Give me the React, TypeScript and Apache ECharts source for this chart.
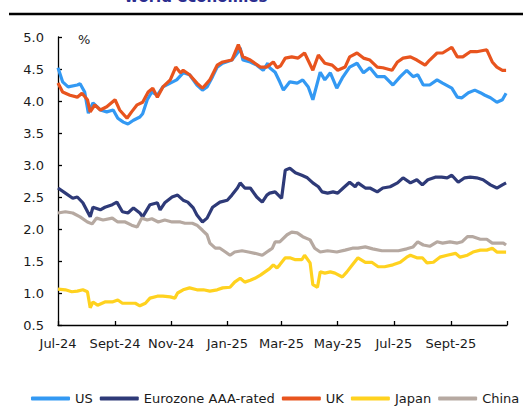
import React, { useEffect, useRef } from "react";
import * as echarts from "echarts";

// x values are days since 1 July 2024
const tickDays = [0, 62, 123, 184, 243, 304, 365, 427, 488];
const tickLabels = ["Jul-24", "Sept-24", "Nov-24", "Jan-25", "Mar-25", "May-25", "Jul-25", "Sept-25"];
const seriesNames = ["US", "Eurozone AAA-rated", "UK", "Japan", "China"];
const seriesColors = ["#3399f3", "#2e3a78", "#e8541e", "#ffd21f", "#b6a9a1"];

const US: [number, number][] = [[0,4.52],[5,4.30],[11,4.22],[21,4.25],[24,4.27],[29,4.14],[33,3.81],[38,3.97],[46,3.86],[53,3.83],[60,3.86],[65,3.73],[71,3.67],[76,3.64],[82,3.70],[89,3.75],[92,3.80],[97,4.02],[102,4.14],[108,4.09],[114,4.22],[122,4.28],[129,4.33],[136,4.44],[143,4.41],[151,4.25],[157,4.17],[162,4.22],[168,4.38],[173,4.53],[179,4.59],[189,4.64],[195,4.75],[198,4.83],[201,4.64],[209,4.61],[216,4.56],[223,4.48],[228,4.59],[230,4.52],[236,4.45],[241,4.30],[245,4.17],[252,4.30],[260,4.28],[266,4.33],[272,4.22],[277,4.02],[285,4.45],[290,4.33],[296,4.44],[303,4.20],[309,4.36],[317,4.53],[325,4.59],[332,4.44],[339,4.52],[347,4.38],[355,4.38],[364,4.25],[372,4.38],[379,4.48],[386,4.38],[391,4.41],[397,4.25],[404,4.25],[412,4.33],[418,4.28],[428,4.20],[434,4.06],[439,4.05],[446,4.13],[453,4.17],[459,4.13],[464,4.09],[470,4.05],[477,3.98],[483,4.02],[487,4.12]];

const EUROZONE: [number, number][] = [[0,2.64],[8,2.56],[16,2.48],[21,2.50],[27,2.41],[35,2.19],[38,2.34],[46,2.30],[51,2.34],[59,2.38],[64,2.42],[70,2.27],[76,2.25],[82,2.33],[89,2.25],[92,2.19],[100,2.38],[108,2.41],[111,2.30],[116,2.41],[124,2.50],[130,2.53],[136,2.45],[141,2.42],[147,2.33],[151,2.22],[157,2.11],[162,2.17],[168,2.34],[176,2.42],[184,2.45],[189,2.53],[195,2.64],[198,2.72],[203,2.64],[209,2.64],[216,2.50],[222,2.42],[227,2.53],[230,2.56],[236,2.58],[243,2.48],[247,2.92],[252,2.95],[258,2.88],[265,2.84],[271,2.80],[277,2.72],[283,2.66],[287,2.58],[293,2.56],[299,2.58],[304,2.56],[310,2.64],[317,2.73],[323,2.66],[326,2.72],[334,2.64],[339,2.64],[347,2.58],[353,2.64],[361,2.66],[369,2.72],[375,2.80],[383,2.72],[390,2.77],[396,2.69],[402,2.77],[410,2.81],[417,2.81],[423,2.80],[428,2.84],[435,2.73],[442,2.80],[448,2.81],[455,2.80],[462,2.77],[470,2.69],[477,2.64],[483,2.69],[487,2.72]];

const UK: [number, number][] = [[0,4.28],[5,4.14],[13,4.09],[21,4.06],[26,4.12],[32,4.02],[35,3.83],[40,3.94],[46,3.86],[53,3.91],[62,4.02],[67,3.86],[75,3.73],[80,3.83],[86,3.94],[92,3.98],[98,4.14],[103,4.20],[108,4.06],[114,4.22],[122,4.33],[128,4.53],[133,4.44],[136,4.48],[143,4.41],[151,4.28],[157,4.20],[165,4.33],[173,4.56],[179,4.61],[189,4.64],[196,4.88],[201,4.69],[209,4.64],[220,4.53],[227,4.53],[234,4.61],[238,4.52],[242,4.55],[247,4.67],[254,4.69],[261,4.67],[268,4.75],[277,4.48],[283,4.72],[290,4.59],[298,4.56],[304,4.48],[312,4.53],[317,4.69],[325,4.75],[332,4.67],[339,4.64],[347,4.53],[353,4.52],[363,4.48],[369,4.61],[375,4.67],[383,4.69],[390,4.64],[399,4.56],[404,4.64],[412,4.75],[418,4.75],[428,4.84],[434,4.69],[440,4.69],[448,4.77],[455,4.77],[466,4.80],[472,4.61],[477,4.53],[483,4.48],[487,4.48]];

const JAPAN: [number, number][] = [[0,1.06],[8,1.05],[15,1.02],[21,1.03],[27,1.05],[32,1.02],[35,0.77],[38,0.86],[43,0.81],[51,0.86],[59,0.86],[65,0.89],[70,0.84],[76,0.84],[84,0.84],[89,0.80],[95,0.84],[100,0.92],[108,0.95],[114,0.95],[122,0.94],[127,0.92],[130,1.00],[136,1.05],[143,1.08],[151,1.05],[158,1.05],[165,1.03],[173,1.05],[179,1.08],[187,1.09],[192,1.17],[198,1.23],[203,1.17],[209,1.20],[214,1.23],[220,1.28],[225,1.33],[230,1.38],[234,1.44],[238,1.39],[241,1.44],[247,1.55],[252,1.55],[258,1.52],[265,1.52],[268,1.59],[274,1.47],[277,1.13],[282,1.09],[285,1.33],[290,1.31],[296,1.33],[301,1.31],[309,1.25],[314,1.33],[320,1.44],[326,1.55],[334,1.48],[341,1.48],[348,1.41],[355,1.41],[364,1.44],[372,1.48],[379,1.56],[383,1.59],[390,1.55],[396,1.55],[401,1.47],[408,1.48],[415,1.56],[423,1.59],[432,1.62],[437,1.56],[445,1.59],[451,1.64],[459,1.67],[466,1.67],[472,1.70],[477,1.64],[484,1.64],[487,1.64]];

const CHINA: [number, number][] = [[0,2.25],[8,2.27],[16,2.25],[24,2.19],[32,2.11],[37,2.08],[42,2.17],[49,2.14],[59,2.17],[65,2.11],[73,2.11],[80,2.06],[86,2.03],[91,2.17],[97,2.14],[102,2.16],[109,2.11],[116,2.14],[124,2.11],[133,2.11],[138,2.09],[146,2.09],[151,2.06],[157,1.98],[162,1.91],[165,1.78],[171,1.70],[176,1.70],[182,1.64],[187,1.59],[192,1.64],[200,1.66],[207,1.64],[214,1.62],[222,1.59],[227,1.64],[230,1.67],[233,1.70],[236,1.80],[241,1.80],[249,1.91],[254,1.95],[260,1.94],[266,1.88],[274,1.83],[279,1.70],[285,1.64],[293,1.66],[303,1.64],[312,1.67],[320,1.70],[326,1.70],[334,1.72],[342,1.69],[352,1.66],[361,1.66],[370,1.66],[379,1.69],[386,1.72],[391,1.80],[397,1.75],[404,1.73],[412,1.80],[418,1.78],[426,1.80],[434,1.78],[439,1.80],[445,1.88],[451,1.88],[459,1.84],[466,1.84],[472,1.78],[478,1.78],[484,1.78],[487,1.75]];

const seriesData = [US, EUROZONE, UK, JAPAN, CHINA];

const FONT = "DejaVu Sans";
const TEXT = "#1a1a1a";

export default function App() {
  const ref = useRef<HTMLDivElement>(null);
  useEffect(() => {
    if (!ref.current) return;
    const chart = echarts.init(ref.current, null, { renderer: "svg" });
    chart.setOption({
      animation: false,
      textStyle: { fontFamily: FONT },
      grid: { left: 58, right: 16, top: 37, bottom: 83 },
      legend: {
        data: seriesNames,
        left: 31,
        top: 392,
        width: 492,
        padding: 0,
        icon: "roundRect",
        itemWidth: 39,
        itemHeight: 4,
        itemGap: 7,
        textStyle: { fontFamily: FONT, fontSize: 13, color: TEXT },
      },
      graphic: [
        {
          type: "text",
          x: 196,
          y: 4,
          style: {
            text: "world economies",
            fill: "#2b2d8f",
            font: `bold 15px ${FONT}`,
            align: "center",
            verticalAlign: "bottom",
          },
        },
        {
          type: "line",
          shape: { x1: 9, y1: 14, x2: 523, y2: 14 },
          style: { stroke: "#000", lineWidth: 2.5 },
        },
        {
          type: "text",
          x: 78,
          y: 33,
          style: { text: "%", fill: TEXT, font: `13px ${FONT}` },
        },
      ],
      xAxis: {
        type: "value",
        min: tickDays[0],
        max: tickDays[tickDays.length - 1],
        splitLine: { show: false },
        axisLine: { show: true, lineStyle: { color: "#000", width: 1.3 } },
        axisTick: {
          show: true,
          inside: true,
          length: 4,
          lineStyle: { color: "#000", width: 1.3 },
          customValues: tickDays,
        },
        axisLabel: {
          customValues: tickDays.slice(0, tickLabels.length),
          formatter: (v: number) => {
            const i = tickDays.indexOf(v);
            return i >= 0 && i < tickLabels.length ? tickLabels[i] : "";
          },
          color: TEXT,
          fontSize: 13,
          fontFamily: FONT,
          margin: 12,
        },
      },
      yAxis: {
        type: "value",
        min: 0.5,
        max: 5.0,
        interval: 0.5,
        splitLine: { show: false },
        axisLine: { show: true, lineStyle: { color: "#000", width: 1.3 } },
        axisTick: { show: true, inside: true, length: 4, lineStyle: { color: "#000", width: 1.3 } },
        axisLabel: {
          formatter: (v: number) => v.toFixed(1),
          color: TEXT,
          fontSize: 13,
          fontFamily: FONT,
          margin: 14,
        },
      },
      series: seriesNames.map((name, i) => ({
        name,
        type: "line",
        data: seriesData[i],
        showSymbol: false,
        symbol: "none",
        color: seriesColors[i],
        lineStyle: { width: 3.2, color: seriesColors[i] },
      })),
    });
    return () => chart.dispose();
  }, []);
  return (
    <div
      ref={ref}
      style={{ position: "fixed", left: 0, top: 0, width: 523, height: 408, background: "#fff" }}
    />
  );
}
